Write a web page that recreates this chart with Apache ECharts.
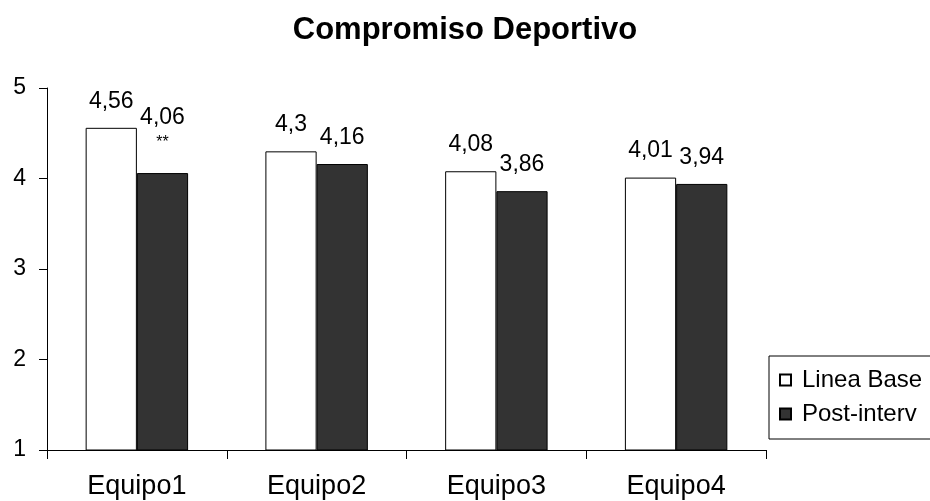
<!DOCTYPE html>
<html>
<head>
<meta charset="utf-8">
<title>Compromiso Deportivo</title>
<script src="https://cdn.jsdelivr.net/npm/echarts@6/dist/echarts.min.js"></script>
<style>
  html, body { margin: 0; padding: 0; background: #ffffff; }
  #chart { width: 930px; height: 501px; }
</style>
</head>
<body>
<div id="chart"></div>
<script>
// Team categories and the two measurement series
const categories = ['Equipo1', 'Equipo2', 'Equipo3', 'Equipo4'];
const seriesNames = ['Linea Base', 'Post-interv'];
const lineaBase = [4.56, 4.3, 4.08, 4.01];
const postInterv = [4.06, 4.16, 3.86, 3.94];
// Significance marks printed under the post-intervention value labels
const significance = ['**', '', '', ''];
const yTicks = [1, 2, 3, 4, 5];

const FONT = '"Liberation Sans", Arial, sans-serif';
const fmt = v => String(v).replace('.', ',');

const chart = echarts.init(document.getElementById('chart'), null, { renderer: 'canvas' });

const postData = postInterv.map((v, i) => {
  const item = { value: v };
  if (significance[i]) {
    item.label = {
      distance: 18,
      formatter: p => '{v|' + fmt(p.value) + '}\n{s|' + significance[i] + '}',
      rich: {
        v: { fontSize: 23, fontFamily: FONT, color: '#000', lineHeight: 26 },
        s: { fontSize: 16, fontFamily: FONT, color: '#000', lineHeight: 24 }
      }
    };
  }
  return item;
});

chart.setOption({
  animation: false,
  backgroundColor: '#ffffff',
  title: {
    text: 'Compromiso Deportivo',
    left: 460,
    textAlign: 'center',
    top: 10,
    textStyle: { fontFamily: FONT, fontSize: 31, fontWeight: 'bold', color: '#000' }
  },
  legend: {
    orient: 'vertical',
    left: 769,
    top: 356,
    padding: [12, 30, 13, 10],
    itemGap: 10,
    itemWidth: 11,
    itemHeight: 11,
    icon: 'rect',
    borderColor: '#000',
    borderWidth: 1,
    textStyle: { fontFamily: FONT, fontSize: 24, color: '#000', padding: [0, 0, 0, 6] },
    data: seriesNames
  },
  grid: { left: 47, right: 164, top: 88, bottom: 51, containLabel: false },
  xAxis: {
    type: 'category',
    data: categories,
    boundaryGap: true,
    axisLine: { lineStyle: { color: '#000', width: 1 } },
    axisTick: { show: true, length: 9, inside: false, lineStyle: { color: '#000' } },
    axisLabel: { fontFamily: FONT, fontSize: 27, color: '#000', margin: 23 }
  },
  yAxis: {
    type: 'value',
    min: yTicks[0],
    max: yTicks[yTicks.length - 1],
    interval: 1,
    axisLine: { show: true, lineStyle: { color: '#000', width: 1 } },
    axisTick: { show: true, length: 8, lineStyle: { color: '#000' } },
    splitLine: { show: false },
    axisLabel: { fontFamily: FONT, fontSize: 23, color: '#000', margin: 21 }
  },
  series: [
    {
      name: seriesNames[0],
      type: 'bar',
      data: lineaBase,
      barGap: '0%',
      barCategoryGap: '43%',
      itemStyle: { color: '#ffffff', borderColor: '#000', borderWidth: 1 },
      label: {
        show: true, position: 'top', distance: 15,
        fontFamily: FONT, fontSize: 23, color: '#000',
        formatter: p => fmt(p.value)
      }
    },
    {
      name: seriesNames[1],
      type: 'bar',
      data: postData,
      barGap: '0%',
      barCategoryGap: '43%',
      itemStyle: { color: '#333333', borderColor: '#000', borderWidth: 1 },
      label: {
        show: true, position: 'top', distance: 15,
        fontFamily: FONT, fontSize: 23, color: '#000',
        formatter: p => fmt(p.value)
      }
    }
  ]
});
</script>
</body>
</html>
